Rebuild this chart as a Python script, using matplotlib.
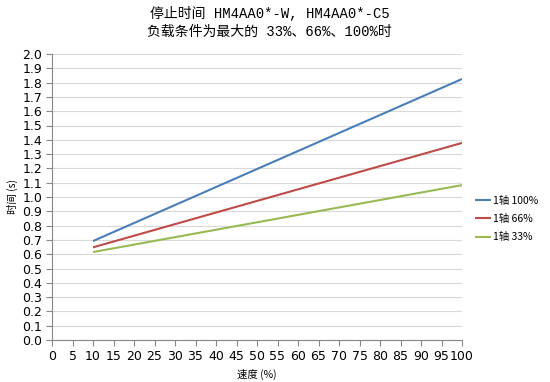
import matplotlib
matplotlib.use('Agg')
import matplotlib.pyplot as plt
import numpy as np

plt.rcParams['font.family'] = ['DejaVu Sans', 'Noto Sans CJK SC']

# data
speed = [10, 100]
t_100 = [0.692, 1.825]
t_66 = [0.648, 1.378]
t_33 = [0.615, 1.083]
labels = ['1轴 100%', '1轴 66%', '1轴 33%']
colours = ['#4a7ebb', '#be4b48', '#98b954']
xticks = np.arange(0, 101, 5)
yticks = np.arange(0, 2.01, 0.1)

fig = plt.figure(figsize=(5.5, 3.82), dpi=100)
ax = fig.add_axes([52/550, 42/382, 410/550, 286/382])

for vals, lab, c in zip([t_100, t_66, t_33], labels, colours):
    ax.plot(speed, vals, color=c, lw=1.5, label=lab, solid_capstyle='butt')

ax.set_xlim(0, 100)
ax.set_ylim(0, 2.0)
ax.set_xticks(xticks)
ax.set_yticks(yticks)
ax.set_yticklabels(['%.1f' % v for v in yticks])
ax.tick_params(axis='both', labelsize=9, colors='#888888', labelcolor='black', length=4)
ax.tick_params(axis='y', length=4, pad=3)
ax.grid(axis='y', color='#d9d9d9', lw=0.8)
ax.set_axisbelow(True)
for s in ['top', 'right']:
    ax.spines[s].set_visible(False)
for s in ['left', 'bottom']:
    ax.spines[s].set_color('#888888')

ax.set_xlabel('速度 (%)', fontsize=7.5, family=['Noto Sans CJK SC', 'DejaVu Sans'], labelpad=4)
ax.set_ylabel('时间 (s)', fontsize=7.5, family=['Noto Sans CJK SC', 'DejaVu Sans'], labelpad=3)

fig.text(0.49, 0.985, '停止时间 HM4AA0*-W, HM4AA0*-C5\n负载条件为最大的 33%、66%、100%时',
         ha='center', va='top', fontsize=10, linespacing=1.4,
         family=['Liberation Mono', 'Noto Sans CJK SC'])

leg = ax.legend(loc='center left', bbox_to_anchor=(1.01, 0.423), frameon=False,
                handlelength=1.5, handletextpad=0.2, labelspacing=0.8,
                prop={'family': ['Noto Sans CJK SC', 'DejaVu Sans'], 'size': 7.5})

fig.savefig('out.png', dpi=100)
